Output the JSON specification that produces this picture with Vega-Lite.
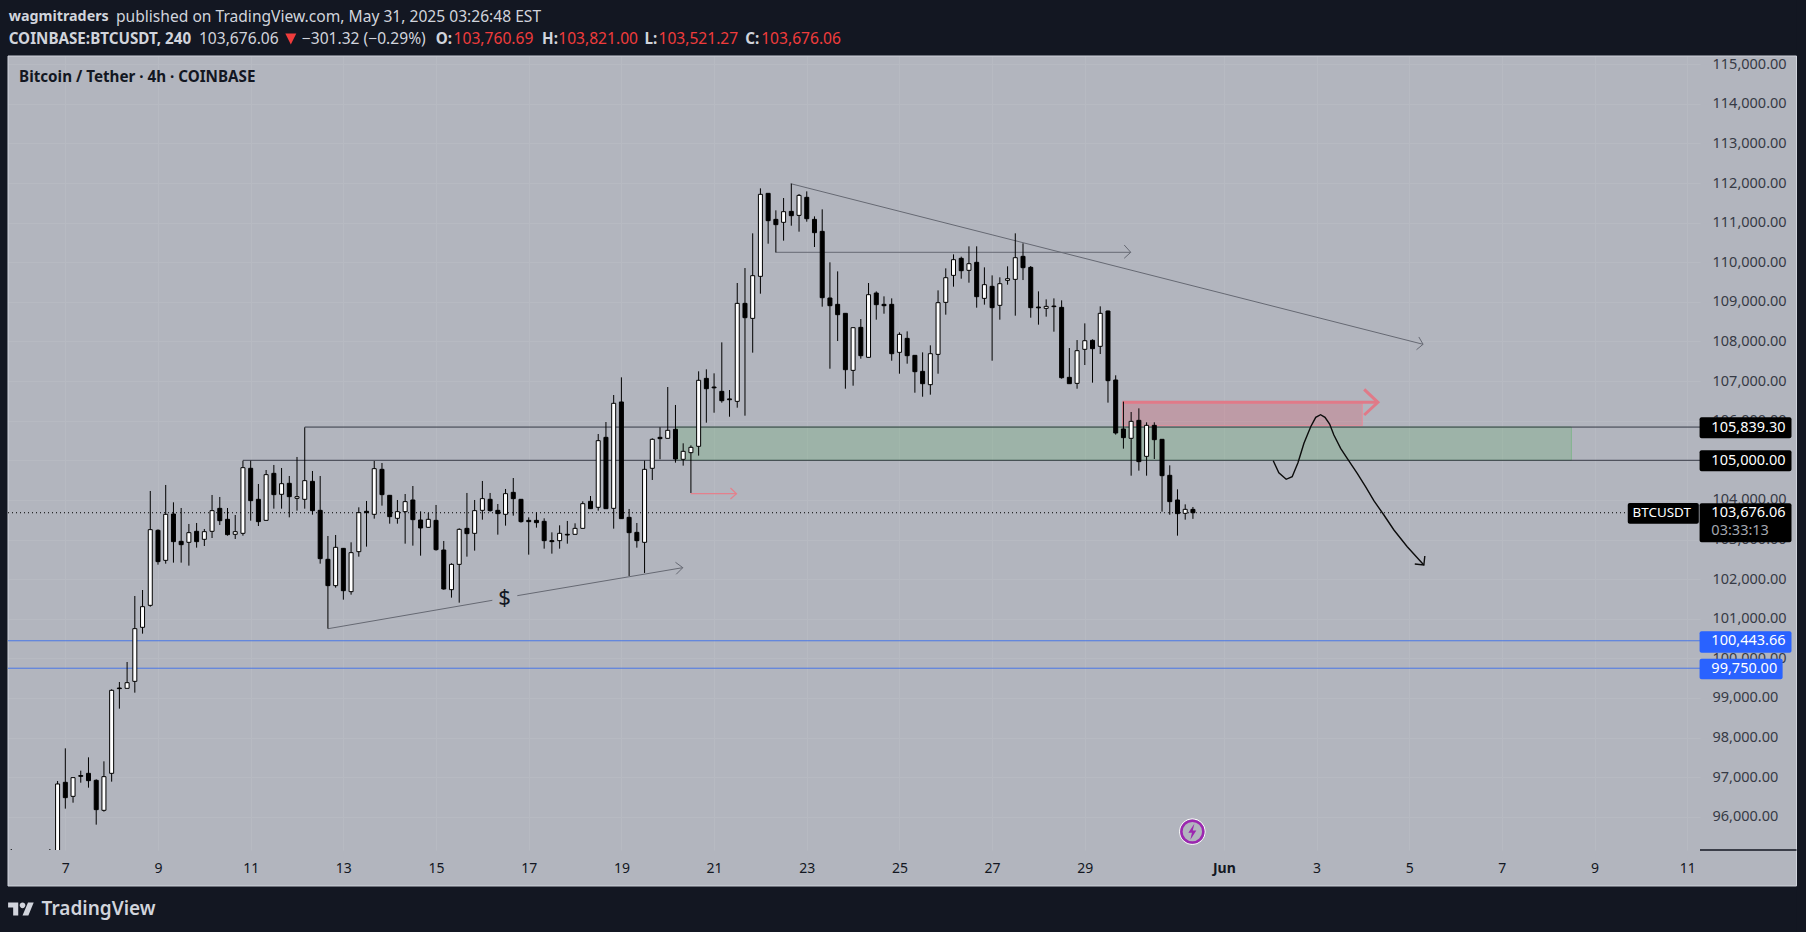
{
"$schema":"https://vega.github.io/schema/vega-lite/v6.json",
"description":"BTCUSDT 4h candles with TradingView style drawings",
"width":1692,"height":794,
"autosize":{"type":"none"},
"padding":{"left":8,"top":56,"right":106,"bottom":82},
"background":"#b2b5be",
"config":{"view":{"stroke":null},"font":"Noto Sans"},
"datasets":{"candles":[
{"t":"2025-05-05T20:00Z","o":94950,"h":95185,"l":94800,"c":95000},
{"t":"2025-05-06T16:00Z","o":94950,"h":95185,"l":94800,"c":95000},
{"t":"2025-05-06T20:00Z","o":94950,"h":96902,"l":94900,"c":96827},
{"t":"2025-05-07T00:00Z","o":96869,"h":97727,"l":96204,"c":96482},
{"t":"2025-05-07T04:00Z","o":96515,"h":96987,"l":96355,"c":96987},
{"t":"2025-05-07T08:00Z","o":97040,"h":97163,"l":96860,"c":97020},
{"t":"2025-05-07T12:00Z","o":97096,"h":97500,"l":96734,"c":96911},
{"t":"2025-05-07T16:00Z","o":96919,"h":96945,"l":95800,"c":96179},
{"t":"2025-05-07T20:00Z","o":96162,"h":97399,"l":96128,"c":97012},
{"t":"2025-05-08T00:00Z","o":97096,"h":99217,"l":96886,"c":99192},
{"t":"2025-05-08T04:00Z","o":99250,"h":99402,"l":98729,"c":99235},
{"t":"2025-05-08T08:00Z","o":99242,"h":99907,"l":99242,"c":99385},
{"t":"2025-05-08T12:00Z","o":99419,"h":101574,"l":99133,"c":100749},
{"t":"2025-05-08T16:00Z","o":100783,"h":101725,"l":100623,"c":101304},
{"t":"2025-05-08T20:00Z","o":101338,"h":104225,"l":101304,"c":103249},
{"t":"2025-05-09T00:00Z","o":103232,"h":103257,"l":102365,"c":102441},
{"t":"2025-05-09T04:00Z","o":102474,"h":104377,"l":102390,"c":103636},
{"t":"2025-05-09T08:00Z","o":103644,"h":103939,"l":102416,"c":102946},
{"t":"2025-05-09T12:00Z","o":102954,"h":103796,"l":102416,"c":102870},
{"t":"2025-05-09T16:00Z","o":102929,"h":103392,"l":102340,"c":103173},
{"t":"2025-05-09T20:00Z","o":103207,"h":103417,"l":102794,"c":102946},
{"t":"2025-05-10T00:00Z","o":103005,"h":103266,"l":102836,"c":103198},
{"t":"2025-05-10T04:00Z","o":103207,"h":104124,"l":103038,"c":103729},
{"t":"2025-05-10T08:00Z","o":103787,"h":104074,"l":103367,"c":103476},
{"t":"2025-05-10T12:00Z","o":103510,"h":103796,"l":103097,"c":103123},
{"t":"2025-05-10T16:00Z","o":103131,"h":103619,"l":103013,"c":103198},
{"t":"2025-05-10T20:00Z","o":103156,"h":104991,"l":103097,"c":104814},
{"t":"2025-05-11T00:00Z","o":104798,"h":104991,"l":103476,"c":103981},
{"t":"2025-05-11T04:00Z","o":104015,"h":104402,"l":103341,"c":103451},
{"t":"2025-05-11T08:00Z","o":103484,"h":104755,"l":103484,"c":104638},
{"t":"2025-05-11T12:00Z","o":104671,"h":104882,"l":103779,"c":104133},
{"t":"2025-05-11T16:00Z","o":104141,"h":104806,"l":103779,"c":104410},
{"t":"2025-05-11T20:00Z","o":104419,"h":104604,"l":103560,"c":104082},
{"t":"2025-05-12T00:00Z","o":104040,"h":105084,"l":103729,"c":104082},
{"t":"2025-05-12T04:00Z","o":104015,"h":105833,"l":103779,"c":104486},
{"t":"2025-05-12T08:00Z","o":104469,"h":104730,"l":103628,"c":103729},
{"t":"2025-05-12T12:00Z","o":103737,"h":104604,"l":102390,"c":102517},
{"t":"2025-05-12T16:00Z","o":102500,"h":103089,"l":100749,"c":101835},
{"t":"2025-05-12T20:00Z","o":101835,"h":103114,"l":101784,"c":102803},
{"t":"2025-05-13T00:00Z","o":102777,"h":102786,"l":101481,"c":101708},
{"t":"2025-05-13T04:00Z","o":101683,"h":102929,"l":101607,"c":102668},
{"t":"2025-05-13T08:00Z","o":102693,"h":103813,"l":102567,"c":103678},
{"t":"2025-05-13T12:00Z","o":103712,"h":103973,"l":102820,"c":103678},
{"t":"2025-05-13T16:00Z","o":103636,"h":104983,"l":103527,"c":104789},
{"t":"2025-05-13T20:00Z","o":104772,"h":104932,"l":103855,"c":104133},
{"t":"2025-05-14T00:00Z","o":104116,"h":104124,"l":103400,"c":103577},
{"t":"2025-05-14T04:00Z","o":103535,"h":103998,"l":103400,"c":103703},
{"t":"2025-05-14T08:00Z","o":103703,"h":104149,"l":102895,"c":103956},
{"t":"2025-05-14T12:00Z","o":103998,"h":104351,"l":102845,"c":103501},
{"t":"2025-05-14T16:00Z","o":103493,"h":103712,"l":102592,"c":103291},
{"t":"2025-05-14T20:00Z","o":103308,"h":103670,"l":103299,"c":103510},
{"t":"2025-05-15T00:00Z","o":103484,"h":103872,"l":102719,"c":102744},
{"t":"2025-05-15T04:00Z","o":102735,"h":102963,"l":101734,"c":101751},
{"t":"2025-05-15T08:00Z","o":101734,"h":102399,"l":101532,"c":102373},
{"t":"2025-05-15T12:00Z","o":102373,"h":103282,"l":101405,"c":103257},
{"t":"2025-05-15T16:00Z","o":103282,"h":104175,"l":102567,"c":103148},
{"t":"2025-05-15T20:00Z","o":103156,"h":103998,"l":102719,"c":103729},
{"t":"2025-05-16T00:00Z","o":103737,"h":104478,"l":103501,"c":104032},
{"t":"2025-05-16T04:00Z","o":104015,"h":104175,"l":103703,"c":103729},
{"t":"2025-05-16T08:00Z","o":103737,"h":103897,"l":103123,"c":103653},
{"t":"2025-05-16T12:00Z","o":103636,"h":104276,"l":103350,"c":104158},
{"t":"2025-05-16T16:00Z","o":104191,"h":104553,"l":103602,"c":104032},
{"t":"2025-05-16T20:00Z","o":104015,"h":104023,"l":103426,"c":103451},
{"t":"2025-05-17T00:00Z","o":103484,"h":103560,"l":102618,"c":103451},
{"t":"2025-05-17T04:00Z","o":103484,"h":103687,"l":103299,"c":103426},
{"t":"2025-05-17T08:00Z","o":103459,"h":103535,"l":102769,"c":102971},
{"t":"2025-05-17T12:00Z","o":102971,"h":103181,"l":102643,"c":102946},
{"t":"2025-05-17T16:00Z","o":102971,"h":103358,"l":102769,"c":103156},
{"t":"2025-05-17T20:00Z","o":103131,"h":103468,"l":102895,"c":103114},
{"t":"2025-05-18T00:00Z","o":103131,"h":103409,"l":103123,"c":103282},
{"t":"2025-05-18T04:00Z","o":103282,"h":103964,"l":103274,"c":103905},
{"t":"2025-05-18T08:00Z","o":103964,"h":104099,"l":103771,"c":103779},
{"t":"2025-05-18T12:00Z","o":103813,"h":105664,"l":103729,"c":105496},
{"t":"2025-05-18T16:00Z","o":105580,"h":105967,"l":103771,"c":103779},
{"t":"2025-05-18T20:00Z","o":103787,"h":106649,"l":103274,"c":106439},
{"t":"2025-05-19T00:00Z","o":106473,"h":107095,"l":103518,"c":103527},
{"t":"2025-05-19T04:00Z","o":103560,"h":103771,"l":102079,"c":103173},
{"t":"2025-05-19T08:00Z","o":103181,"h":103417,"l":102794,"c":102971},
{"t":"2025-05-19T12:00Z","o":102929,"h":104991,"l":102155,"c":104772},
{"t":"2025-05-19T16:00Z","o":104798,"h":105555,"l":104503,"c":105530},
{"t":"2025-05-19T20:00Z","o":105580,"h":105833,"l":105025,"c":105547},
{"t":"2025-05-20T00:00Z","o":105555,"h":106851,"l":105555,"c":105757},
{"t":"2025-05-20T04:00Z","o":105782,"h":106397,"l":104941,"c":105033},
{"t":"2025-05-20T08:00Z","o":105025,"h":105429,"l":104865,"c":105227},
{"t":"2025-05-20T12:00Z","o":105193,"h":105378,"l":104175,"c":105328},
{"t":"2025-05-20T16:00Z","o":105353,"h":107247,"l":105118,"c":107020},
{"t":"2025-05-20T20:00Z","o":107069,"h":107297,"l":105950,"c":106808},
{"t":"2025-05-21T00:00Z","o":106850,"h":107196,"l":106202,"c":106830},
{"t":"2025-05-21T04:00Z","o":106741,"h":107978,"l":106455,"c":106505},
{"t":"2025-05-21T08:00Z","o":106550,"h":106775,"l":106101,"c":106530},
{"t":"2025-05-21T12:00Z","o":106489,"h":109477,"l":106329,"c":108963},
{"t":"2025-05-21T16:00Z","o":108963,"h":109855,"l":106127,"c":108601},
{"t":"2025-05-21T20:00Z","o":108584,"h":110731,"l":107718,"c":109662},
{"t":"2025-05-22T00:00Z","o":109645,"h":111867,"l":109207,"c":111716},
{"t":"2025-05-22T04:00Z","o":111741,"h":111741,"l":110470,"c":111051},
{"t":"2025-05-22T08:00Z","o":111084,"h":111312,"l":110251,"c":110950},
{"t":"2025-05-22T12:00Z","o":111009,"h":111623,"l":110546,"c":111278},
{"t":"2025-05-22T16:00Z","o":111286,"h":111985,"l":110924,"c":111177},
{"t":"2025-05-22T20:00Z","o":111185,"h":111724,"l":110773,"c":111690},
{"t":"2025-05-23T00:00Z","o":111640,"h":111791,"l":111025,"c":111101},
{"t":"2025-05-23T04:00Z","o":111084,"h":111160,"l":110386,"c":110748},
{"t":"2025-05-23T08:00Z","o":110781,"h":111337,"l":108879,"c":109106},
{"t":"2025-05-23T12:00Z","o":109098,"h":109999,"l":107313,"c":108904},
{"t":"2025-05-23T16:00Z","o":108938,"h":109771,"l":108012,"c":108677},
{"t":"2025-05-23T20:00Z","o":108711,"h":108711,"l":106808,"c":107288},
{"t":"2025-05-24T00:00Z","o":107271,"h":108357,"l":106884,"c":108349},
{"t":"2025-05-24T04:00Z","o":108357,"h":108568,"l":107566,"c":107642},
{"t":"2025-05-24T08:00Z","o":107600,"h":109477,"l":107592,"c":109182},
{"t":"2025-05-24T12:00Z","o":109224,"h":109266,"l":108551,"c":108930},
{"t":"2025-05-24T16:00Z","o":108938,"h":109140,"l":108702,"c":108904},
{"t":"2025-05-24T20:00Z","o":108938,"h":109089,"l":107515,"c":107692},
{"t":"2025-05-25T00:00Z","o":107726,"h":108231,"l":107187,"c":108180},
{"t":"2025-05-25T04:00Z","o":108079,"h":108256,"l":107440,"c":107642},
{"t":"2025-05-25T08:00Z","o":107650,"h":107650,"l":106707,"c":107238},
{"t":"2025-05-25T12:00Z","o":107246,"h":107726,"l":106606,"c":106935},
{"t":"2025-05-25T16:00Z","o":106910,"h":107903,"l":106657,"c":107692},
{"t":"2025-05-25T20:00Z","o":107675,"h":109291,"l":107187,"c":108980},
{"t":"2025-05-26T00:00Z","o":108988,"h":109847,"l":108677,"c":109611},
{"t":"2025-05-26T04:00Z","o":109670,"h":110200,"l":109384,"c":110066},
{"t":"2025-05-26T08:00Z","o":110100,"h":110142,"l":109586,"c":109788},
{"t":"2025-05-26T12:00Z","o":109797,"h":110403,"l":109485,"c":109965},
{"t":"2025-05-26T16:00Z","o":109999,"h":110403,"l":108854,"c":109132},
{"t":"2025-05-26T20:00Z","o":109089,"h":109872,"l":108930,"c":109435},
{"t":"2025-05-27T00:00Z","o":109393,"h":109670,"l":107515,"c":108854},
{"t":"2025-05-27T04:00Z","o":108913,"h":109620,"l":108551,"c":109460},
{"t":"2025-05-27T08:00Z","o":109544,"h":109898,"l":109435,"c":109586},
{"t":"2025-05-27T12:00Z","o":109569,"h":110731,"l":108652,"c":110116},
{"t":"2025-05-27T16:00Z","o":110150,"h":110478,"l":109552,"c":109864},
{"t":"2025-05-27T20:00Z","o":109872,"h":109906,"l":108601,"c":108854},
{"t":"2025-05-28T00:00Z","o":108870,"h":109266,"l":108425,"c":108850},
{"t":"2025-05-28T04:00Z","o":108837,"h":109064,"l":108627,"c":108887},
{"t":"2025-05-28T08:00Z","o":108895,"h":109089,"l":108248,"c":108880},
{"t":"2025-05-28T12:00Z","o":108862,"h":109039,"l":107061,"c":107086},
{"t":"2025-05-28T16:00Z","o":107095,"h":107835,"l":106935,"c":106935},
{"t":"2025-05-28T20:00Z","o":106943,"h":108037,"l":106808,"c":107768},
{"t":"2025-05-29T00:00Z","o":107802,"h":108458,"l":107406,"c":108020},
{"t":"2025-05-29T04:00Z","o":108029,"h":108054,"l":106960,"c":107819},
{"t":"2025-05-29T08:00Z","o":107878,"h":108888,"l":107684,"c":108711},
{"t":"2025-05-29T12:00Z","o":108770,"h":108779,"l":106456,"c":107011},
{"t":"2025-05-29T16:00Z","o":107028,"h":107146,"l":105648,"c":105690},
{"t":"2025-05-29T20:00Z","o":105791,"h":106481,"l":105294,"c":105572},
{"t":"2025-05-30T00:00Z","o":105555,"h":106220,"l":104612,"c":105984},
{"t":"2025-05-30T04:00Z","o":106009,"h":106312,"l":104738,"c":104966},
{"t":"2025-05-30T08:00Z","o":105100,"h":105959,"l":104612,"c":105883},
{"t":"2025-05-30T12:00Z","o":105883,"h":105959,"l":105033,"c":105521},
{"t":"2025-05-30T16:00Z","o":105530,"h":105538,"l":103703,"c":104612},
{"t":"2025-05-30T20:00Z","o":104621,"h":104873,"l":103627,"c":103956},
{"t":"2025-05-31T00:00Z","o":103998,"h":104267,"l":103097,"c":103653},
{"t":"2025-05-31T04:00Z","o":103661,"h":103888,"l":103501,"c":103762},
{"t":"2025-05-31T08:00Z","o":103760.69,"h":103821,"l":103521.27,"c":103676.06}
]},
"encoding":{
"x":{"field":"t","type":"temporal","title":null,
"scale":{"type":"utc","padding":0,"domain":["2025-05-05T18:19:00Z","2025-06-11T06:37:00Z"]},
"axis":{"title":null,"domain":false,"ticks":false,"gridColor":"#b7bac2","gridWidth":1,"labelColor":"#131722","labelFontSize":14,"labelPadding":11,"labelFlush":false,"labelOverlap":false,
"labelFontWeight":{"condition":{"test":"utcdate(datum.value)==1","value":"bold"},"value":"normal"},
"labelExpr":"utcdate(datum.value)==1?'Jun':utcdate(datum.value)",
"values":[{"year":2025,"month":"may","date":7,"utc":true},{"year":2025,"month":"may","date":9,"utc":true},{"year":2025,"month":"may","date":11,"utc":true},{"year":2025,"month":"may","date":13,"utc":true},{"year":2025,"month":"may","date":15,"utc":true},{"year":2025,"month":"may","date":17,"utc":true},{"year":2025,"month":"may","date":19,"utc":true},{"year":2025,"month":"may","date":21,"utc":true},{"year":2025,"month":"may","date":23,"utc":true},{"year":2025,"month":"may","date":25,"utc":true},{"year":2025,"month":"may","date":27,"utc":true},{"year":2025,"month":"may","date":29,"utc":true},{"year":2025,"month":"jun","date":1,"utc":true},{"year":2025,"month":"jun","date":3,"utc":true},{"year":2025,"month":"jun","date":5,"utc":true},{"year":2025,"month":"jun","date":7,"utc":true},{"year":2025,"month":"jun","date":9,"utc":true},{"year":2025,"month":"jun","date":11,"utc":true}]}},
"y":{"field":"p","type":"quantitative","title":null,
"scale":{"domain":[95160,115209],"nice":false,"zero":false},
"axis":{"title":null,"orient":"right","domain":false,"ticks":false,"gridColor":"#b7bac2","gridWidth":1,"labelColor":"#363a45","labelFontSize":14.5,"labelPadding":12,"labelOverlap":false,"labelBound":false,"labelFlush":false,"format":",.2f",
"values":[96000,97000,98000,99000,100000,101000,102000,103000,104000,105000,106000,107000,108000,109000,110000,111000,112000,113000,114000,115000]}},
"color":{"field":"kind","type":"nominal","legend":null,"scale":{
"domain":["dark","level","trend","blue","salmon","thick","curve","dotted","green","pink","pill","pillblue","light","red","ink","paper","muted"],
"range":["#131722","#363a45","#666973","#4a78e6","#e4808c","#e07a88","#0c0c0c","#000000","#4caf50","#f23645","#000000","#2962ff","#d1d4dc","#f03c3c","#131722","#ffffff","#a3a6af"]}}
},
"layer":[
{"data":{"values":[
{"kind":"dark","t":"2025-05-05T00:00Z","t2":"2025-06-14T00:00Z","p":117000,"p2":115209},
{"kind":"dark","t":"2025-05-05T00:00Z","t2":"2025-06-14T00:00Z","p":94251,"p2":93000},
{"kind":"dark","t":"2025-05-05T00:00Z","t2":"2025-05-05T18:19Z","p":117000,"p2":93000},
{"kind":"dark","t":"2025-06-13T08:36Z","t2":"2025-06-14T00:00Z","p":117000,"p2":93000}]},
"mark":{"type":"rect"},"encoding":{"x2":{"field":"t2"},"y2":{"field":"p2"}}},
{"data":{"values":[{"kind":"dark","t":"2025-05-05T18:19Z","t2":"2025-06-13T08:36Z","p":115209,"p2":94251}]},
"mark":{"type":"rect","filled":false,"strokeWidth":1},"encoding":{"x2":{"field":"t2"},"y2":{"field":"p2"},"color":{"value":"#d1d4dc"}}},
{"data":{"values":[
{"kind":"green","t":"2025-05-20T04:30Z","t2":"2025-06-08T12:00Z","p":105839.3,"p2":105000},
{"kind":"pink","t":"2025-05-29T19:30Z","t2":"2025-06-03T23:42Z","p":106455,"p2":105874}]},
"mark":{"type":"rect","fillOpacity":0.2,"strokeWidth":1},
"encoding":{"x2":{"field":"t2"},"y2":{"field":"p2"},"stroke":{"field":"kind","type":"nominal","legend":null,"scale":{"domain":["green","pink"],"range":["#82b48e","#e58c9a"]}}}},
{"data":{"values":[
{"id":"res","kind":"level","t":"2025-05-12T04:00Z","p":105839.3},{"id":"res","kind":"level","t":"2025-06-11T06:37Z","p":105839.3},
{"id":"sup","kind":"level","t":"2025-05-10T20:00Z","p":105000},{"id":"sup","kind":"level","t":"2025-06-11T06:37Z","p":105000},
{"id":"edge","kind":"dark","t":"2025-06-11T06:37Z","p":95160},{"id":"edge","kind":"dark","t":"2025-06-13T08:36Z","p":95160},
{"id":"b1","kind":"blue","t":"2025-05-05T18:19Z","p":100443.66},{"id":"b1","kind":"blue","t":"2025-06-11T06:37Z","p":100443.66},
{"id":"b2","kind":"blue","t":"2025-05-05T18:19Z","p":99750},{"id":"b2","kind":"blue","t":"2025-06-11T06:37Z","p":99750},
{"id":"up1","kind":"trend","t":"2025-05-12T16:06Z","p":100748},{"id":"up1","kind":"trend","t":"2025-05-16T05:10Z","p":101465},
{"id":"up2","kind":"trend","t":"2025-05-16T18:06Z","p":101582},{"id":"up2","kind":"trend","t":"2025-05-20T07:48Z","p":102289},
{"id":"uph","kind":"trend","t":"2025-05-20T04:00Z","p":102425},{"id":"uph","kind":"trend","t":"2025-05-20T07:48Z","p":102289},{"id":"uph","kind":"trend","t":"2025-05-20T04:24Z","p":102122},
{"id":"dn","kind":"trend","t":"2025-05-22T15:42Z","p":111985},{"id":"dn","kind":"trend","t":"2025-06-05T07:12Z","p":107929},
{"id":"dnh","kind":"trend","t":"2025-06-05T05:00Z","p":108114},{"id":"dnh","kind":"trend","t":"2025-06-05T07:12Z","p":107929},{"id":"dnh","kind":"trend","t":"2025-06-05T03:48Z","p":107793},
{"id":"hz","kind":"trend","t":"2025-05-22T07:48Z","p":110252},{"id":"hz","kind":"trend","t":"2025-05-29T23:48Z","p":110252},
{"id":"hzh","kind":"trend","t":"2025-05-29T20:24Z","p":110437},{"id":"hzh","kind":"trend","t":"2025-05-29T23:48Z","p":110252},{"id":"hzh","kind":"trend","t":"2025-05-29T20:24Z","p":110101},
{"id":"sm","kind":"salmon","t":"2025-05-20T11:54Z","p":104157},{"id":"sm","kind":"salmon","t":"2025-05-21T11:36Z","p":104157},
{"id":"smh","kind":"salmon","t":"2025-05-21T08:30Z","p":104301},{"id":"smh","kind":"salmon","t":"2025-05-21T11:36Z","p":104157},{"id":"smh","kind":"salmon","t":"2025-05-21T08:30Z","p":104023},
{"id":"th","kind":"thick","t":"2025-05-29T19:30Z","p":106465},{"id":"th","kind":"thick","t":"2025-06-04T07:48Z","p":106465},
{"id":"thh","kind":"thick","t":"2025-06-04T00:42Z","p":106793},{"id":"thh","kind":"thick","t":"2025-06-04T07:48Z","p":106465},{"id":"thh","kind":"thick","t":"2025-06-04T00:42Z","p":106144},
{"id":"cv","kind":"curve","t":"2025-06-02T01:36Z","p":104990},{"id":"cv","kind":"curve","t":"2025-06-02T04:30Z","p":104687},{"id":"cv","kind":"curve","t":"2025-06-02T08:18Z","p":104521},{"id":"cv","kind":"curve","t":"2025-06-02T11:24Z","p":104586},{"id":"cv","kind":"curve","t":"2025-06-02T14:24Z","p":104940},{"id":"cv","kind":"curve","t":"2025-06-02T17:30Z","p":105430},{"id":"cv","kind":"curve","t":"2025-06-02T21:00Z","p":105849},{"id":"cv","kind":"curve","t":"2025-06-02T23:36Z","p":106086},{"id":"cv","kind":"curve","t":"2025-06-03T02:06Z","p":106152},{"id":"cv","kind":"curve","t":"2025-06-03T04:24Z","p":106086},{"id":"cv","kind":"curve","t":"2025-06-03T06:48Z","p":105917},{"id":"cv","kind":"curve","t":"2025-06-03T09:00Z","p":105639},{"id":"cv","kind":"curve","t":"2025-06-03T12:30Z","p":105303},{"id":"cv","kind":"curve","t":"2025-06-03T15:54Z","p":105051},{"id":"cv","kind":"curve","t":"2025-06-03T21:06Z","p":104672},{"id":"cv","kind":"curve","t":"2025-06-04T01:24Z","p":104334},{"id":"cv","kind":"curve","t":"2025-06-04T05:42Z","p":103980},{"id":"cv","kind":"curve","t":"2025-06-04T10:54Z","p":103619},{"id":"cv","kind":"curve","t":"2025-06-04T16:06Z","p":103240},{"id":"cv","kind":"curve","t":"2025-06-04T23:00Z","p":102819},{"id":"cv","kind":"curve","t":"2025-06-05T07:36Z","p":102357},
{"id":"cvh","kind":"curve","t":"2025-06-05T02:54Z","p":102382},{"id":"cvh","kind":"curve","t":"2025-06-05T07:36Z","p":102357},{"id":"cvh","kind":"curve","t":"2025-06-05T08:06Z","p":102584}]},
"mark":{"type":"line","order":false},
"encoding":{"detail":{"field":"id"},"strokeWidth":{"field":"kind","type":"nominal","legend":null,"scale":{"type":"ordinal","domain":["level","dark","blue","trend","salmon","thick","curve"],"range":[1,1.5,1,1,1.2,3,1.4]}}}},
{"data":{"values":[{"kind":"dotted","t":"2025-05-05T18:19Z","p":103676.06},{"kind":"dotted","t":"2025-06-09T16:06Z","p":103676.06}]},
"mark":{"type":"line","strokeWidth":1,"strokeDash":[1,3]}},
{"data":{"name":"candles"},"mark":{"type":"rule","clip":true,"strokeWidth":1},
"encoding":{"y":{"field":"h","type":"quantitative","scale":{"domain":[95160,115209]}},"y2":{"field":"l"},"color":{"value":"#000000"}}},
{"data":{"name":"candles"},"mark":{"type":"bar","clip":true,"size":4,"stroke":"#000000","strokeWidth":1},
"encoding":{"y":{"field":"o","type":"quantitative","scale":{"domain":[95160,115209]}},"y2":{"field":"c"},"color":{"condition":{"test":"datum.c>=datum.o","value":"#ffffff"},"value":"#000000"}}},
{"data":{"values":[
{"kind":"pill","t":"2025-06-11T06:24Z","t2":"2025-06-13T06:00Z","p":106086,"p2":105556},
{"kind":"pill","t":"2025-06-11T06:24Z","t2":"2025-06-13T06:00Z","p":105253,"p2":104723},
{"kind":"pill","t":"2025-06-11T06:24Z","t2":"2025-06-13T06:00Z","p":103915,"p2":102930},
{"kind":"pill","t":"2025-06-09T17:12Z","t2":"2025-06-11T06:00Z","p":103922,"p2":103399},
{"kind":"pillblue","t":"2025-06-11T06:24Z","t2":"2025-06-13T06:00Z","p":100683,"p2":100142},
{"kind":"pillblue","t":"2025-06-11T06:24Z","t2":"2025-06-13T01:24Z","p":99990,"p2":99470}]},
"mark":{"type":"rect","cornerRadius":2},"encoding":{"x2":{"field":"t2"},"y2":{"field":"p2"}}},
{"data":{"values":[
{"kind":"paper","t":"2025-06-11T12:30Z","p":105821,"text":"105,839.30"},
{"kind":"paper","t":"2025-06-11T12:30Z","p":104988,"text":"105,000.00"},
{"kind":"paper","t":"2025-06-11T12:30Z","p":103670,"text":"103,676.06"},
{"kind":"muted","t":"2025-06-11T12:30Z","p":103215,"text":"03:33:13"},
{"kind":"paper","t":"2025-06-11T12:30Z","p":100425,"text":"100,443.66"},
{"kind":"paper","t":"2025-06-11T12:30Z","p":99731,"text":"99,750.00"}]},
"mark":{"type":"text","align":"left","baseline":"middle","fontSize":14.5},"encoding":{"text":{"field":"text"}}},
{"data":{"values":[{"kind":"paper","t":"2025-06-09T19:42Z","p":103657,"text":"BTCUSDT"}]},
"mark":{"type":"text","align":"left","baseline":"middle","fontSize":13.4},"encoding":{"text":{"field":"text"}}},
{"data":{"values":[
{"kind":"light","t":"2025-05-08T02:14Z","p":116194,"text":"published on TradingView.com, May 31, 2025 03:26:48 EST"},
{"kind":"light","t":"2025-05-09T21:12Z","p":115638,"text":"103,676.06"},
{"kind":"light","t":"2025-05-12T02:30Z","p":115638,"text":"−301.32 (−0.29%)"},
{"kind":"red","t":"2025-05-15T09:06Z","p":115638,"text":"103,760.69"},
{"kind":"red","t":"2025-05-17T15:18Z","p":115638,"text":"103,821.00"},
{"kind":"red","t":"2025-05-19T19:12Z","p":115638,"text":"103,521.27"},
{"kind":"red","t":"2025-05-22T00:24Z","p":115638,"text":"103,676.06"}]},
"mark":{"type":"text","align":"left","baseline":"middle","fontSize":15.6},"encoding":{"text":{"field":"text"}}},
{"data":{"values":[
{"kind":"light","t":"2025-05-05T18:40Z","p":115638,"text":"COINBASE:BTCUSDT, 240"},
{"kind":"light","t":"2025-05-14T23:48Z","p":115638,"text":"O:"},
{"kind":"light","t":"2025-05-17T06:54Z","p":115638,"text":"H:"},
{"kind":"light","t":"2025-05-19T12:00Z","p":115638,"text":"L:"},
{"kind":"light","t":"2025-05-21T16:06Z","p":115638,"text":"C:"},
{"kind":"ink","t":"2025-05-06T00:02Z","p":114679,"text":"Bitcoin / Tether · 4h · COINBASE"}]},
"mark":{"type":"text","align":"left","baseline":"middle","fontSize":15.2,"fontWeight":"bold"},"encoding":{"text":{"field":"text"}}},
{"data":{"values":[{"kind":"light","t":"2025-05-05T18:40Z","p":116194,"text":"wagmitraders"}]},
"mark":{"type":"text","align":"left","baseline":"middle","fontSize":14.3,"fontWeight":"bold"},"encoding":{"text":{"field":"text"}}},
{"data":{"values":[{"kind":"red","t":"2025-05-11T20:48Z","p":115638}]},
"mark":{"type":"point","filled":true,"opacity":1,"size":121,"shape":"M-1 -1H1L0 1Z"}},
{"data":{"values":[
{"kind":"ink","t":"2025-05-16T11:30Z","p":101523,"text":"$"}]},
"mark":{"type":"text","align":"center","baseline":"middle","fontSize":22},"encoding":{"text":{"field":"text"}}},
{"data":{"values":[
{"kind":"light","t":"2025-05-06T11:42Z","p":93671,"text":"TradingView"}]},
"mark":{"type":"text","align":"left","baseline":"middle","fontSize":19,"fontWeight":600},"encoding":{"text":{"field":"text"}}},
{"data":{"values":[{"kind":"light","t":"2025-05-06T01:06Z","p":93671}]},
"mark":{"type":"point","filled":true,"opacity":1,"size":676,"shape":"M-.22 .5H-.61V-.11H-1V-.5H-.22ZM.56 .5H.11L.53 -.5H.97ZM.11 -.06A.22 .22 0 1 0 .11 -.5A.22 .22 0 1 0 .11 -.06Z"}},
{"data":{"values":[{"kind":"paper","t":"2025-05-31T07:42Z","p":95623}]},
"mark":{"type":"point","filled":false,"opacity":1,"size":660,"strokeWidth":1,"shape":"circle"}},
{"data":{"values":[{"kind":"pink","t":"2025-05-31T07:42Z","p":95623}]},
"mark":{"type":"point","filled":false,"opacity":1,"size":480,"strokeWidth":2.5,"shape":"circle"},"encoding":{"color":{"value":"#9c27b0"}}},
{"data":{"values":[{"kind":"pink","t":"2025-05-31T07:42Z","p":95623}]},
"mark":{"type":"point","filled":true,"opacity":1,"size":256,"shape":"M.25 -1L-.5 .15H-.05L-.25 1L.5 -.15H.05Z"},"encoding":{"color":{"value":"#9c27b0"}}}
]
}
